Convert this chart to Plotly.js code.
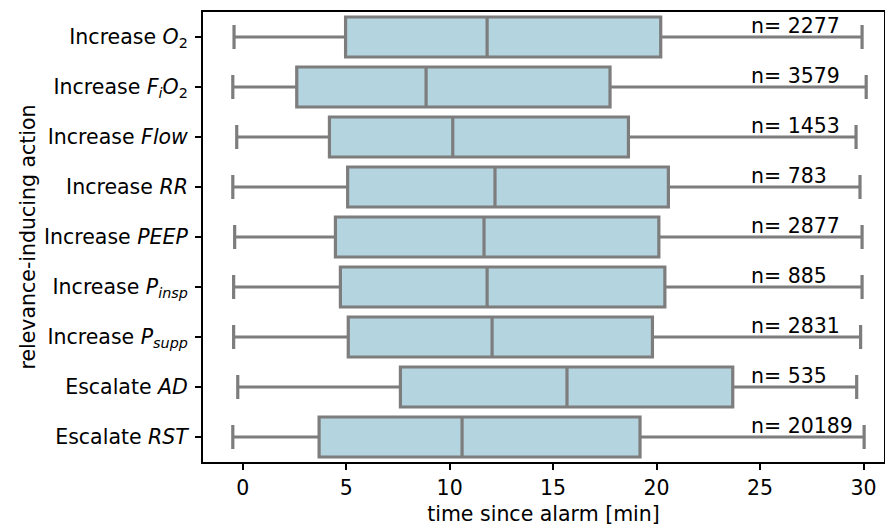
<!DOCTYPE html>
<html>
<head>
<meta charset="utf-8">
<script src="https://cdn.plot.ly/plotly-3.0.1.min.js"></script>
<style>html,body{margin:0;padding:0;background:#fff;}#chart{width:885px;height:526px;}</style>
</head>
<body>
<div id="chart"></div>
<script>
// Data (minutes since alarm)
const categories = ["O2", "FiO2", "Flow", "RR", "PEEP", "Pinsp", "Psupp", "AD", "RST"];
const categoryLabels = [
  "Increase <i>O</i><sub>2</sub>",
  "Increase <i>F</i><sub><i>i</i></sub><i>O</i><sub>2</sub>",
  "Increase <i>Flow</i>",
  "Increase <i>RR</i>",
  "Increase <i>PEEP</i>",
  "Increase <i>P</i><sub><i>insp</i></sub>",
  "Increase <i>P</i><sub><i>supp</i></sub>",
  "Escalate <i>AD</i>",
  "Escalate <i>RST</i>"
];
const lowerWhisker = [-0.42, -0.48, -0.29, -0.48, -0.39, -0.44, -0.44, -0.24, -0.48];
const q1Values     = [4.97, 2.61, 4.19, 5.07, 4.48, 4.72, 5.10, 7.62, 3.69];
const medianValues = [11.81, 8.86, 10.15, 12.19, 11.66, 11.81, 12.05, 15.67, 10.60];
const q3Values     = [20.20, 17.75, 18.64, 20.57, 20.11, 20.40, 19.80, 23.68, 19.20];
const upperWhisker = [29.93, 30.13, 29.64, 29.83, 29.93, 29.93, 29.86, 29.67, 30.03];
const counts       = [2277, 3579, 1453, 783, 2877, 885, 2831, 535, 20189];

const FONT = "DejaVu Sans, Liberation Sans, sans-serif";
const FS = 20.5;
const labelX = 24.45;

const trace = {
  type: "box",
  orientation: "h",
  y: categories,
  q1: q1Values,
  median: medianValues,
  q3: q3Values,
  lowerfence: lowerWhisker,
  upperfence: upperWhisker,
  width: 0.8,
  whiskerwidth: 0.6,
  fillcolor: "rgb(180,212,223)",
  line: {color: "rgb(125,125,125)", width: 3.2},
  hoverinfo: "skip",
  showlegend: false
};

const annotations = categories.map((c, i) => ({
  x: labelX, y: c, xref: "x", yref: "y",
  text: "n= " + counts[i],
  showarrow: false,
  xanchor: "left", yanchor: "bottom",
  yshift: -3,
  font: {family: FONT, size: FS, color: "#000"}
}));

const layout = {
  width: 885, height: 526,
  margin: {l: 203, r: 1, t: 12, b: 64, pad: 0},
  paper_bgcolor: "#fff", plot_bgcolor: "#fff",
  font: {family: FONT, size: FS, color: "#000"},
  xaxis: {
    range: [-1.92, 30.99],
    tickvals: [0, 5, 10, 15, 20, 25, 30],
    ticks: "outside", ticklen: 6, tickwidth: 2, tickcolor: "#000",
    showline: true, linecolor: "#000", linewidth: 2, mirror: true,
    showgrid: false, zeroline: false,
    tickfont: {family: FONT, size: FS, color: "#000"},
    title: {text: "time since alarm [min]", font: {family: FONT, size: FS, color: "#000"}, standoff: 12}
  },
  yaxis: {
    type: "category",
    categoryorder: "array", categoryarray: categories,
    range: [8.5, -0.5],
    tickvals: categories, ticktext: categoryLabels,
    ticks: "outside", ticklen: 6, tickwidth: 2, tickcolor: "#000",
    ticklabelstandoff: 3,
    showline: true, linecolor: "#000", linewidth: 2, mirror: true,
    showgrid: false, zeroline: false,
    tickfont: {family: FONT, size: FS, color: "#000"},
    title: {text: "relevance-inducing action", font: {family: FONT, size: FS, color: "#000"}, standoff: 3}
  },
  annotations: annotations
};

Plotly.newPlot("chart", [trace], layout, {displayModeBar: false, staticPlot: true});
</script>
</body>
</html>
